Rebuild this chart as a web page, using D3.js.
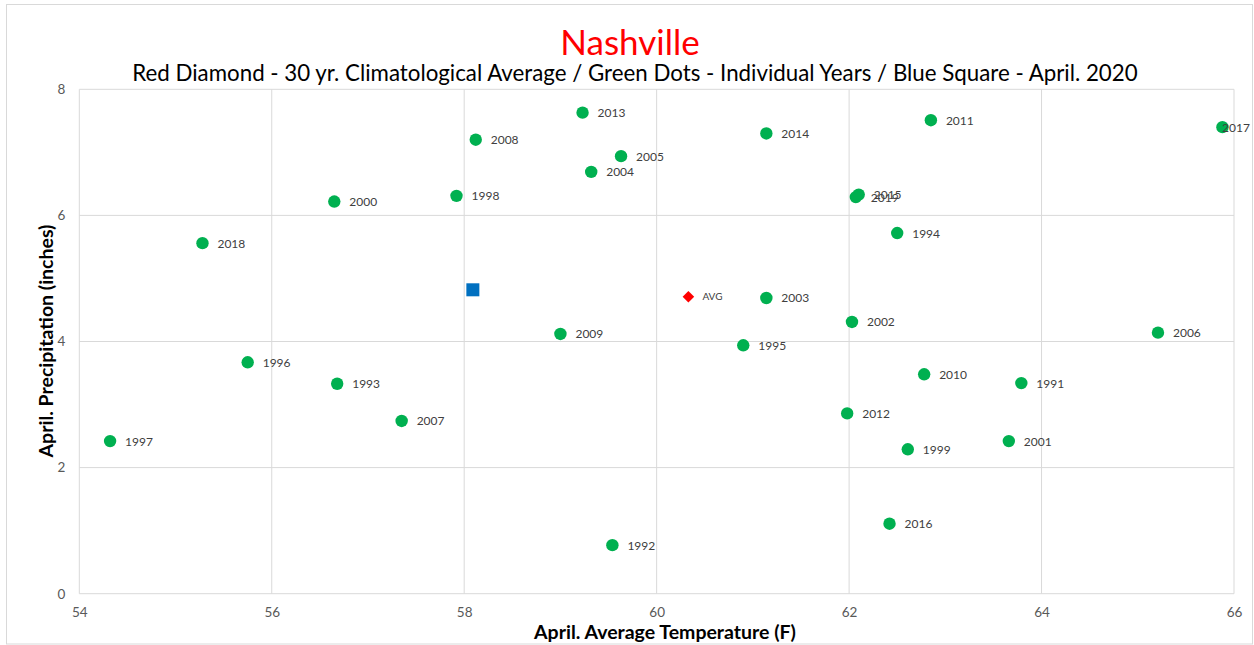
<!DOCTYPE html>
<html>
<head>
<meta charset="utf-8">
<script src="https://cdn.jsdelivr.net/npm/d3@7"></script>
<style>
  body { margin: 0; background: #fff; }
  text { font-family: Lato, "Open Sans", sans-serif; }
</style>
</head>
<body>
<div id="main"></div>
<script>
const W = 1254, H = 645;
const margin = {top: 89.3, right: 20, bottom: 51.3, left: 79.3};

// individual years: [year, temp (F), precip (in)]
const years = [1991, 1992, 1993, 1994, 1995, 1996, 1997, 1998, 1999, 2000,
               2001, 2002, 2003, 2004, 2005, 2006, 2007, 2008, 2009, 2010,
               2011, 2012, 2013, 2014, 2015, 2016, 2017, 2018, 2019];
const temps = [63.79, 59.54, 56.68, 62.50, 60.90, 55.75, 54.32, 57.92, 62.61, 56.65,
               63.66, 62.03, 61.14, 59.32, 59.63, 65.21, 57.35, 58.12, 59.00, 62.78,
               62.85, 61.98, 59.23, 61.14, 62.10, 62.42, 65.88, 55.28, 62.07];
const precips = [3.34, 0.77, 3.33, 5.72, 3.94, 3.67, 2.42, 6.31, 2.29, 6.22,
                 2.42, 4.31, 4.69, 6.69, 6.94, 4.14, 2.74, 7.20, 4.12, 3.48,
                 7.51, 2.86, 7.63, 7.30, 6.33, 1.11, 7.40, 5.56, 6.29];
const avgPoint = [60.33, 4.71];
const currentPoint = [58.09, 4.82];
const xTicks = [54, 56, 58, 60, 62, 64, 66];
const yTicks = [0, 2, 4, 6, 8];

const svg = d3.select("#main").append("svg")
    .attr("width", W).attr("height", H);

svg.append("rect")
    .attr("x", 6.5).attr("y", 4.5)
    .attr("width", 1246).attr("height", 639.5)
    .attr("fill", "#fff").attr("stroke", "#d9d9d9");

const x = d3.scaleLinear().domain([54, 66]).range([margin.left, 1234]);
const y = d3.scaleLinear().domain([0, 8]).range([593.7, margin.top]);

// gridlines
svg.append("g").selectAll("line").data(xTicks).enter().append("line")
    .attr("x1", d => x(d)).attr("x2", d => x(d))
    .attr("y1", y(0)).attr("y2", y(8))
    .attr("stroke", "#d9d9d9").attr("stroke-width", 1);
svg.append("g").selectAll("line").data(yTicks).enter().append("line")
    .attr("x1", x(54)).attr("x2", x(66))
    .attr("y1", d => y(d)).attr("y2", d => y(d))
    .attr("stroke", "#d9d9d9").attr("stroke-width", 1);

// axes
const xAxis = svg.append("g")
    .attr("transform", `translate(0, ${y(0)})`)
    .call(d3.axisBottom(x).tickValues(xTicks).tickSize(0).tickPadding(14));
const yAxis = svg.append("g")
    .attr("transform", `translate(${x(54)}, 0)`)
    .call(d3.axisLeft(y).tickValues(yTicks).tickSize(0).tickPadding(14));
[xAxis, yAxis].forEach(a => {
    a.select(".domain").remove();
    a.selectAll("text")
        .attr("fill", "#595959")
        .style("font-size", "13.5px")
        .style("font-family", "Lato, 'Open Sans', sans-serif");
});

// green dots
const pts = years.map((yr, i) => ({year: yr, t: temps[i], p: precips[i]}));
svg.append("g").selectAll("circle").data(pts).enter().append("circle")
    .attr("cx", d => x(d.t)).attr("cy", d => y(d.p))
    .attr("r", 6.2).attr("fill", "#00b050");
// labels are pushed back inside the chart box when they would run past it
svg.append("g").selectAll("text").data(pts).enter().append("text")
    .attr("x", d => Math.min(x(d.t) + 15, 1222))
    .attr("y", d => y(d.p) + 4.5)
    .attr("fill", "#404040").style("font-size", "12px")
    .text(d => d.year);

// blue square - current year
svg.append("rect")
    .attr("x", x(currentPoint[0]) - 6.5).attr("y", y(currentPoint[1]) - 6.5)
    .attr("width", 13).attr("height", 13)
    .attr("fill", "#0070c0");

// red diamond - average
svg.append("path")
    .attr("d", d3.symbol().type(d3.symbolDiamond2).size(85)())
    .attr("transform", `translate(${x(avgPoint[0])}, ${y(avgPoint[1])})`)
    .attr("fill", "#ff0000");
svg.append("text")
    .attr("x", x(avgPoint[0]) + 14).attr("y", y(avgPoint[1]) + 3.5)
    .attr("fill", "#404040").style("font-size", "10px")
    .text("AVG");

// titles
svg.append("text")
    .attr("x", 630).attr("y", 55)
    .attr("text-anchor", "middle")
    .attr("fill", "#ff0000").style("font-size", "35px")
    .text("Nashville");
svg.append("text")
    .attr("x", 635).attr("y", 81)
    .attr("text-anchor", "middle")
    .attr("fill", "#000").style("font-size", "22.3px")
    .text("Red Diamond - 30 yr. Climatological Average / Green Dots - Individual Years / Blue Square - April. 2020");
svg.append("text")
    .attr("x", 665).attr("y", 639)
    .attr("text-anchor", "middle")
    .attr("fill", "#000").style("font-size", "19.5px").style("font-weight", "bold")
    .text("April. Average Temperature (F)");
svg.append("text")
    .attr("transform", `translate(53, 341) rotate(-90)`)
    .attr("text-anchor", "middle")
    .attr("fill", "#000").style("font-size", "19.5px").style("font-weight", "bold")
    .text("April. Precipitation (inches)");
</script>
</body>
</html>
